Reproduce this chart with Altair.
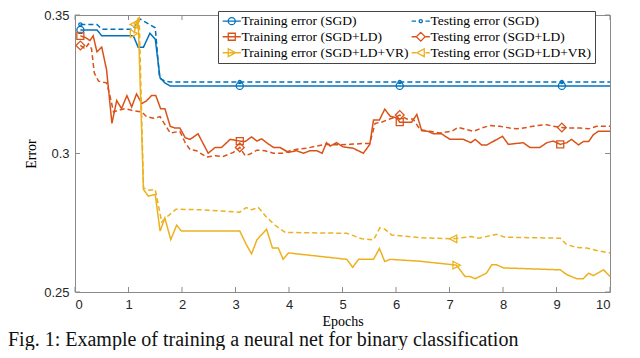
import altair as alt
import pandas as pd

# ---------------- data ----------------
x_ticks = [0, 1, 2, 3, 4, 5, 6, 7, 8, 9, 10]
y_ticks = [0.25, 0.3, 0.35]

series_names = [
    "Training error (SGD)", "Training error (SGD+LD)", "Training error (SGD+LD+VR)",
    "Testing error (SGD)", "Testing error (SGD+LD)", "Testing error (SGD+LD+VR)",
]
series_colors = ["#0072BD", "#D95319", "#EDB120", "#0072BD", "#D95319", "#EDB120"]
series_dash = [[1, 0], [1, 0], [1, 0], [5, 3], [5, 3], [5, 3]]

sgd_train_epoch = [0.1, 0.41, 0.5, 1.09, 1.18, 1.28, 1.4, 1.5, 1.59, 1.68, 1.78, 10.0]
sgd_train_error = [0.3446, 0.3446, 0.3425, 0.3425, 0.3384, 0.3384, 0.3434, 0.3413, 0.3273, 0.3255, 0.3244, 0.3244]

sgd_test_epoch = [0.1, 0.41, 0.5, 1.09, 1.21, 1.5, 1.58, 1.68, 1.78, 10.0]
sgd_test_error = [0.3466, 0.3466, 0.3449, 0.3449, 0.3486, 0.3454, 0.3273, 0.3261, 0.3258, 0.3258]

ld_train_epoch = [0.1, 0.19, 0.28, 0.34, 0.41, 0.5, 0.59, 0.69, 0.78, 0.87, 0.97, 1.06, 1.15, 1.25,
                  1.34, 1.43, 1.51, 1.6, 1.68, 1.78, 1.87, 1.96, 2.06, 2.15, 2.3, 2.49, 2.62, 2.74,
                  2.9, 3.08, 3.18, 3.3, 3.4, 3.49, 3.58, 3.71, 3.83, 3.99, 4.14, 4.27, 4.39, 4.52,
                  4.62, 4.7, 4.77, 4.89, 5.01, 5.2, 5.39, 5.51, 5.58, 5.69, 5.79, 5.89, 6.01, 6.07,
                  6.29, 6.39, 6.48, 6.6, 6.7, 6.85, 7.01, 7.26, 7.4, 7.48, 7.6, 7.7, 7.99, 8.1,
                  8.38, 8.5, 8.69, 8.82, 8.94, 9.07, 9.19, 9.28, 9.41, 9.5, 9.6, 9.69, 9.78, 10.0]
ld_train_error = [0.3425, 0.3419, 0.3408, 0.3425, 0.3367, 0.3384, 0.3302, 0.3109, 0.3191, 0.3162,
                  0.3209, 0.3168, 0.3215, 0.3180, 0.3191, 0.3209, 0.3209, 0.3162, 0.3162, 0.3098,
                  0.3092, 0.3092, 0.3057, 0.3051, 0.3071, 0.3001, 0.3022, 0.3022, 0.3051, 0.3045,
                  0.3043, 0.3060, 0.3045, 0.3053, 0.3039, 0.3022, 0.3022, 0.3004, 0.3010, 0.3001,
                  0.3010, 0.3010, 0.3001, 0.3039, 0.3027, 0.3039, 0.3024, 0.3019, 0.3001, 0.3033,
                  0.3121, 0.3121, 0.3160, 0.3135, 0.3129, 0.3113, 0.3113, 0.3141, 0.3082, 0.3080,
                  0.3071, 0.3071, 0.3051, 0.3051, 0.3039, 0.3051, 0.3031, 0.3031, 0.3062, 0.3033,
                  0.3039, 0.3022, 0.3022, 0.3039, 0.3045, 0.3033, 0.3039, 0.3051, 0.3031, 0.3043,
                  0.3043, 0.3068, 0.3080, 0.3080]

ld_test_epoch = [0.1, 0.19, 0.25, 0.31, 0.36, 0.44, 0.59, 0.64, 0.72, 0.81, 0.93, 1.06, 1.25, 1.34,
                 1.46, 1.59, 1.78, 1.96, 2.06, 2.15, 2.27, 2.46, 2.62, 2.77, 2.96, 3.08, 3.18, 3.27,
                 3.4, 3.55, 3.71, 3.89, 4.02, 4.17, 4.33, 4.52, 4.7, 4.95, 5.14, 5.39, 5.51, 5.61,
                 5.73, 5.83, 6.01, 6.07, 6.2, 6.32, 6.45, 6.64, 6.82, 7.04, 7.16, 7.32, 7.45, 7.6,
                 7.76, 7.94, 8.13, 8.26, 8.44, 8.63, 8.82, 8.94, 9.1, 9.19, 9.44, 9.6, 9.75, 10.0]
ld_test_error = [0.3390, 0.3378, 0.3396, 0.3378, 0.3291, 0.3261, 0.3255, 0.3220, 0.3150, 0.3156,
                 0.3162, 0.3156, 0.3150, 0.3133, 0.3127, 0.3133, 0.3074, 0.3080, 0.3039, 0.3014,
                 0.3010, 0.2987, 0.2992, 0.2989, 0.3004, 0.3022, 0.2992, 0.2998, 0.3012, 0.3010,
                 0.3001, 0.3001, 0.3010, 0.3016, 0.3019, 0.3027, 0.3033, 0.3031, 0.3033, 0.3036,
                 0.3036, 0.3109, 0.3113, 0.3121, 0.3133, 0.3139, 0.3125, 0.3125, 0.3086, 0.3080,
                 0.3074, 0.3080, 0.3094, 0.3086, 0.3080, 0.3092, 0.3101, 0.3098, 0.3092, 0.3089,
                 0.3094, 0.3101, 0.3104, 0.3098, 0.3094, 0.3092, 0.3092, 0.3089, 0.3098, 0.3098]

vr_train_epoch = [1.1, 1.18, 1.28, 1.37, 1.5, 1.59, 1.68, 1.79, 1.9, 1.99, 3.08, 3.21, 3.3, 3.4,
                  3.58, 3.69, 3.8, 3.89, 3.99, 5.08, 5.19, 5.3, 5.58, 5.69, 5.79, 5.89, 6.45, 7.13,
                  7.29, 7.38, 7.48, 7.69, 7.79, 7.88, 8.01, 9.07, 9.19, 9.38, 9.5, 9.6, 9.69, 9.88, 10.0]
vr_train_error = [0.3433, 0.3490, 0.2870, 0.2846, 0.2852, 0.2720, 0.2767, 0.2689, 0.2741, 0.2720,
                  0.2720, 0.2668, 0.2638, 0.2688, 0.2727, 0.2659, 0.2659, 0.2618, 0.2641, 0.2618,
                  0.2589, 0.2618, 0.2618, 0.2657, 0.2610, 0.2618, 0.2611, 0.2597, 0.2556, 0.2556,
                  0.2548, 0.2568, 0.2598, 0.2598, 0.2587, 0.2580, 0.2563, 0.2548, 0.2548, 0.2568,
                  0.2559, 0.2580, 0.2556]

vr_test_epoch = [1.1, 1.2, 1.28, 1.4, 1.5, 1.62, 1.71, 1.89, 2.34, 3.08, 3.2, 3.3, 3.43, 3.58, 3.74,
                 3.93, 5.08, 5.36, 5.58, 5.7, 5.79, 5.92, 6.45, 7.07, 7.41, 7.54, 7.88, 8.04, 9.07,
                 9.19, 9.38, 9.56, 9.75, 10.0]
vr_test_error = [0.3466, 0.3490, 0.2875, 0.2867, 0.2870, 0.2753, 0.2770, 0.2799, 0.2797, 0.2788,
                 0.2805, 0.2797, 0.2805, 0.2770, 0.2741, 0.2715, 0.2712, 0.2692, 0.2688, 0.2732,
                 0.2727, 0.2706, 0.2696, 0.2692, 0.2700, 0.2694, 0.2708, 0.2698, 0.2694, 0.2671,
                 0.2661, 0.2659, 0.2650, 0.2641]

# marker positions (MATLAB MarkerIndices)
sgd_train_mk_epoch = [0.1, 3.08, 6.07, 9.1]
sgd_train_mk_error = [0.3446, 0.3244, 0.3244, 0.3244]
sgd_test_mk_epoch = [0.1, 3.08, 6.07, 9.1]
sgd_test_mk_error = [0.3466, 0.3258, 0.3258, 0.3258]
ld_train_mk_epoch = [0.1, 3.08, 6.07, 9.07]
ld_train_mk_error = [0.3425, 0.3045, 0.3113, 0.3033]
ld_test_mk_epoch = [0.1, 3.08, 6.07, 9.1]
ld_test_mk_error = [0.3390, 0.3022, 0.3139, 0.3094]
vr_train_mk_epoch = [1.1, 7.13]
vr_train_mk_error = [0.3433, 0.2597]
vr_test_mk_epoch = [1.1, 7.07]
vr_test_mk_error = [0.3466, 0.2692]

caption_text = "Fig. 1: Example of training a neural net for binary classification"

# ---------------- styling ----------------
W, H = 535, 277
AX = "#8a8a8a"
TICK_LEN = 5

# marker glyphs (unit square paths), in series_names order
P_CIRCLE = "M-1,0A1,1,0,1,1,1,0A1,1,0,1,1,-1,0Z"
P_DOT = "M-0.45,0A0.45,0.45,0,1,1,0.45,0A0.45,0.45,0,1,1,-0.45,0Z"
P_SQUARE = "M-1,-1L1,-1L1,1L-1,1Z"
P_DIAMOND = "M0,-1.25L1.25,0L0,1.25L-1.25,0Z"
P_TRI_R = "M-1,-1.1L1.1,0L-1,1.1Z"
P_TRI_L = "M1,-1.1L-1.1,0L1,1.1Z"
marker_paths = [P_CIRCLE, P_SQUARE, P_TRI_R, P_DOT, P_DIAMOND, P_TRI_L]
SOLID = "M-2.6,0L2.6,0"
DASHED = "M-2.6,0L-1.35,0M1.35,0L2.6,0"
legend_paths = [SOLID + P_CIRCLE, SOLID + P_SQUARE, SOLID + P_TRI_R,
                DASHED + P_DOT, DASHED + P_DIAMOND, DASHED + P_TRI_L]


def frame(name, xs, ys):
    return pd.DataFrame({"series": name, "epoch": xs, "error": ys})


lines_df = pd.concat([
    frame(series_names[0], sgd_train_epoch, sgd_train_error),
    frame(series_names[3], sgd_test_epoch, sgd_test_error),
    frame(series_names[1], ld_train_epoch, ld_train_error),
    frame(series_names[4], ld_test_epoch, ld_test_error),
    frame(series_names[2], vr_train_epoch, vr_train_error),
    frame(series_names[5], vr_test_epoch, vr_test_error),
], ignore_index=True)

markers_df = pd.concat([
    frame(series_names[0], sgd_train_mk_epoch, sgd_train_mk_error),
    frame(series_names[3], sgd_test_mk_epoch, sgd_test_mk_error),
    frame(series_names[1], ld_train_mk_epoch, ld_train_mk_error),
    frame(series_names[4], ld_test_mk_epoch, ld_test_mk_error),
    frame(series_names[2], vr_train_mk_epoch, vr_train_mk_error),
    frame(series_names[5], vr_test_mk_epoch, vr_test_mk_error),
], ignore_index=True)

x_enc = alt.X("epoch:Q", scale=alt.Scale(domain=[0, 10], nice=False),
              axis=alt.Axis(values=x_ticks, title="Epochs", labelPadding=6, titlePadding=3))
y_enc = alt.Y("error:Q", scale=alt.Scale(domain=[0.25, 0.35], nice=False, zero=False),
              axis=alt.Axis(values=y_ticks, format=".2~f", title="Error", labelPadding=6, titlePadding=5))

# legend scales use series order; the plotted marks use a separately ordered
# (alphabetical) domain so that their legend-less scales are not merged with the legend
color_of = dict(zip(series_names, series_colors))
dash_of = dict(zip(series_names, [tuple(d) for d in series_dash]))
plot_domain = sorted(series_names)
stroke_plain = alt.Stroke("series:N", legend=None,
                          scale=alt.Scale(domain=plot_domain, range=[color_of[n] for n in plot_domain]))
dash_plain = alt.StrokeDash("series:N", legend=None,
                            scale=alt.Scale(domain=plot_domain, range=[list(dash_of[n]) for n in plot_domain]))

legend_props = dict(
    orient="none", legendX=143, legendY=-4, columns=2, title=None,
    labelFont="Liberation Serif", labelFontSize=13.5, labelColor="#000000",
    symbolSize=49, symbolStrokeWidth=1.3, symbolOpacity=1,
    symbolOffset=4, labelOffset=3, columnPadding=0, rowPadding=1,
    padding=3, strokeColor="#444444", fillColor="#ffffff", labelLimit=400,
)

lines = alt.Chart(lines_df).mark_line(strokeWidth=1.5).encode(
    x=x_enc, y=y_enc, stroke=stroke_plain, strokeDash=dash_plain,
)

marker_layers = []
for name, path in zip(series_names, marker_paths):
    marker_layers.append(
        alt.Chart(markers_df).transform_filter(alt.datum.series == name)
        .mark_point(shape=path, size=49, filled=False, strokeWidth=1.3, opacity=1)
        .encode(x=x_enc, y=y_enc, stroke=stroke_plain)
    )

# legend-only layer: no rows pass the filter, scales carry the explicit domain
legend_layer = alt.Chart(markers_df).transform_filter("false").mark_point(
    filled=False, strokeWidth=1.3
).encode(
    x=x_enc, y=y_enc,
    color=alt.Color("series:N", scale=alt.Scale(domain=series_names, range=series_colors),
                    legend=alt.Legend(**legend_props)),
    shape=alt.Shape("series:N", scale=alt.Scale(domain=series_names, range=legend_paths),
                    legend=alt.Legend(**legend_props)),
)

# inward ticks (MATLAB style box)
xt_df = pd.DataFrame({"epoch": x_ticks})
yt_df = pd.DataFrame({"error": y_ticks})
tick_x = alt.X("epoch:Q", scale=alt.Scale(domain=[0, 10], nice=False))
tick_y = alt.Y("error:Q", scale=alt.Scale(domain=[0.25, 0.35], nice=False, zero=False))
ticks_bottom = alt.Chart(xt_df).mark_rule(color=AX, strokeWidth=1).encode(
    x=tick_x, y=alt.value(H), y2=alt.value(H - TICK_LEN))
ticks_top = alt.Chart(xt_df).mark_rule(color=AX, strokeWidth=1).encode(
    x=tick_x, y=alt.value(0), y2=alt.value(TICK_LEN))
ticks_left = alt.Chart(yt_df).mark_rule(color=AX, strokeWidth=1).encode(
    y=tick_y, x=alt.value(0), x2=alt.value(TICK_LEN))
ticks_right = alt.Chart(yt_df).mark_rule(color=AX, strokeWidth=1).encode(
    y=tick_y, x=alt.value(W), x2=alt.value(W - TICK_LEN))

cap_df = pd.DataFrame({"caption": [caption_text]})
caption = alt.Chart(cap_df).mark_text(
    align="left", baseline="alphabetic", font="Liberation Serif", fontSize=20, color="#111111"
).encode(x=alt.value(-67), y=alt.value(331), text="caption:N")

chart = alt.layer(
    ticks_bottom, ticks_top, ticks_left, ticks_right,
    lines, *marker_layers, legend_layer, caption,
).properties(
    width=W, height=H,
    autosize=alt.AutoSizeParams(type="none"),
    padding={"left": 67, "top": 7, "right": 22, "bottom": 58},
).configure_view(
    stroke=AX, strokeWidth=1,
).configure_axis(
    grid=False, ticks=False, domain=False,
    labelFont="Liberation Sans", labelFontSize=13, labelColor="#262626",
    titleFont="Liberation Serif", titleFontSize=14, titleFontWeight="normal", titleColor="#000000",
)

chart.save("out.html", embed_options={"renderer": "svg", "actions": False})
